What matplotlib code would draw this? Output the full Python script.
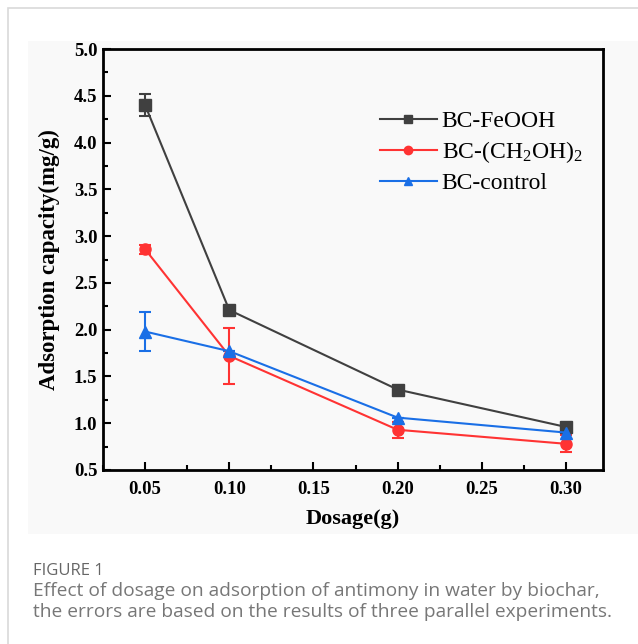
import matplotlib
matplotlib.use("Agg")
import matplotlib.pyplot as plt
from matplotlib.patches import Rectangle
from matplotlib.lines import Line2D
from matplotlib.ticker import MultipleLocator

plt.rcParams["mathtext.fontset"] = "custom"
plt.rcParams["mathtext.rm"] = "Liberation Serif"
plt.rcParams["mathtext.it"] = "Liberation Serif:italic"
plt.rcParams["mathtext.bf"] = "Liberation Serif:bold"

dosage = [0.05, 0.10, 0.20, 0.30]
feooh = [4.40, 2.21, 1.36, 0.96]
feooh_err = [0.12, 0.0, 0.0, 0.0]
ch2oh = [2.86, 1.72, 0.93, 0.78]
ch2oh_err = [0.05, 0.30, 0.085, 0.09]
control = [1.98, 1.77, 1.06, 0.90]
control_err = [0.21, 0.0, 0.0, 0.0]

labels = ["BC-FeOOH", r"BC-(CH$_\mathrm{2}$OH)$_\mathrm{2}$", "BC-control"]
colors = ["#404040", "#ff3333", "#1a6fe6"]
markers = ["s", "o", "^"]
xticks = [0.05, 0.10, 0.15, 0.20, 0.25, 0.30]
yticks = [0.5, 1.0, 1.5, 2.0, 2.5, 3.0, 3.5, 4.0, 4.5, 5.0]

W, H = 638, 644
fig = plt.figure(figsize=(W/100, H/100), dpi=100)
fig.patch.set_facecolor("white")

fig.add_artist(Rectangle((8/W, -0.1), 1.2, 1 - 8/H + 0.1, transform=fig.transFigure,
                         fill=False, edgecolor="#d9d9d9", linewidth=1.2))
fig.add_artist(Rectangle((28/W, 1 - 534/H), 1, (534-41)/H, transform=fig.transFigure,
                         facecolor="#f9f9f9", edgecolor="none", zorder=0))

ax = fig.add_axes([103/W, 1 - 470/H, (603-103)/W, (470-49)/H])
ax.set_facecolor("#f9f9f9")

serif = ["Liberation Serif", "DejaVu Serif"]
for y, e, c, m, lab in zip([feooh, ch2oh, control], [feooh_err, ch2oh_err, control_err],
                            colors, markers, labels):
    ax.errorbar(dosage, y, yerr=e, color=c, marker=m, markersize=8, linewidth=1.5,
                capsize=4, elinewidth=1.5, capthick=1.5, label=lab)

ax.set_xlim(0.025, 0.322)
ax.set_ylim(0.5, 5.0)
ax.set_xticks(xticks)
ax.set_yticks(yticks)
ax.set_xticklabels([f"{v:.2f}" for v in xticks])
ax.set_yticklabels([f"{v:.1f}" for v in yticks])
ax.xaxis.set_minor_locator(MultipleLocator(0.025))
ax.yaxis.set_minor_locator(MultipleLocator(0.25))
ax.tick_params(which="major", direction="in", length=6, width=1.5)
ax.tick_params(which="minor", direction="in", length=3.5, width=1.5)
ax.tick_params(top=False, right=False, which="both")
for s in ax.spines.values():
    s.set_linewidth(2)
for t in ax.get_xticklabels() + ax.get_yticklabels():
    t.set_fontfamily(serif)
    t.set_fontweight("bold")
    t.set_fontsize(13.5)
ax.tick_params(axis="x", pad=8)
ax.tick_params(axis="y", pad=4)

ax.set_xlabel("Dosage(g)", fontfamily=serif, fontweight="bold", fontsize=16, labelpad=8)
ax.set_ylabel("Adsorption capacity(mg/g)", fontfamily=serif, fontweight="bold", fontsize=16.5, labelpad=10)

hs = [Line2D([], [], color=c, marker=m, markersize=6, linewidth=1.5) for c, m in zip(colors, markers)]
ax.legend(hs, labels, loc="upper left", bbox_to_anchor=(0.535, 0.876), frameon=False,
          prop={"family": serif, "size": 17}, handlelength=2.4, handletextpad=0.22,
          labelspacing=0.3, borderpad=0.2, borderaxespad=0.2)

fig.text(33/W, 1 - 571/H, "FIGURE 1", fontfamily="Open Sans", fontsize=12, color="#666666",
         va="center")
fig.text(33/W, 1 - 591/H, "Effect of dosage on adsorption of antimony in water by biochar,",
         fontfamily="Open Sans", fontsize=13.8, color="#777777", va="center")
fig.text(33/W, 1 - 612/H, "the errors are based on the results of three parallel experiments.",
         fontfamily="Open Sans", fontsize=13.8, color="#777777", va="center")

fig.savefig("out.png", dpi=100)
